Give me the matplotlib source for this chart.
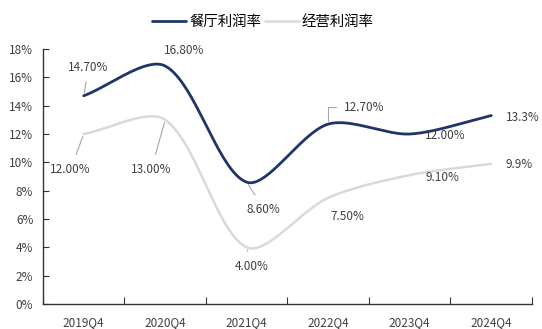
import numpy as np
import matplotlib
matplotlib.use('Agg')
import matplotlib.pyplot as plt

plt.rcParams['font.family'] = ['Noto Sans CJK SC', 'DejaVu Sans']

quarters = ['2019Q4', '2020Q4', '2021Q4', '2022Q4', '2023Q4', '2024Q4']
restaurant = [14.7, 16.8, 8.6, 12.7, 12.0, 13.3]
operating = [12.0, 13.0, 4.0, 7.5, 9.1, 9.9]
restaurant_labels = ['14.70%', '16.80%', '8.60%', '12.70%', '12.00%', '13.3%']
operating_labels = ['12.00%', '13.00%', '4.00%', '7.50%', '9.10%', '9.9%']

navy = '#1f3468'
grey = '#d9d9d9'
txt = '#404040'
lead_col = '#a6a6a6'

# pixel size of one category / one percent, used only for the smoothing distances
PX_X, PX_Y = 81.5, 14.17


def smooth(xs, ys, f=0.15, n=40):
    # excel-like smoothed line: cubic bezier, control arms weighted by segment length
    p = np.column_stack([np.asarray(xs, float) * PX_X, np.asarray(ys, float) * PX_Y])
    p = np.vstack([p[0], p, p[-1]])
    t = np.linspace(0, 1, n)[:, None]
    out = []
    for i in range(1, len(p) - 2):
        a, b, c, d = p[i - 1], p[i], p[i + 1], p[i + 2]
        d_ab, d_bc, d_cd = [np.hypot(*v) for v in (b - a, c - b, d - c)]
        c1 = b + (c - a) * 2 * f * d_bc / (d_ab + d_bc)
        c2 = c - (d - b) * 2 * f * d_bc / (d_bc + d_cd)
        seg = (1 - t) ** 3 * b + 3 * (1 - t) ** 2 * t * c1 + 3 * (1 - t) * t ** 2 * c2 + t ** 3 * c
        out.append(seg)
    out = np.vstack(out)
    return out[:, 0] / PX_X, out[:, 1] / PX_Y


fig = plt.figure(figsize=(5.42, 3.29), dpi=100)
ax = fig.add_axes([0.0793, 0.076, 0.9022, 0.775])

x = np.arange(len(quarters))
sx, sy = smooth(x, restaurant)
ax.plot(sx, sy, color=navy, lw=2.0, label='餐厅利润率', solid_capstyle='round', zorder=3)
sx, sy = smooth(x, operating)
ax.plot(sx, sy, color=grey, lw=1.8, label='经营利润率', solid_capstyle='round', zorder=2)

ax.set_xlim(-0.5, len(quarters) - 0.5)
ax.set_ylim(0, 18)
ax.set_yticks(np.arange(0, 19, 2))
ax.set_yticklabels(['{}%'.format(v) for v in range(0, 19, 2)])
ax.set_xticks(np.arange(-0.5, len(quarters), 1))
ax.set_xticklabels([])
ax.set_xticks(x, minor=True)
ax.set_xticklabels(quarters, minor=True)
ax.tick_params(axis='x', which='major', direction='in', length=5, color='#333333')
ax.tick_params(axis='x', which='minor', length=0, pad=9, labelsize=8.5, labelcolor=txt)
ax.tick_params(axis='y', direction='in', length=4, labelsize=8.5, labelcolor=txt,
               color='#333333', pad=7)
for s in ['top', 'right']:
    ax.spines[s].set_visible(False)
for s in ['left', 'bottom']:
    ax.spines[s].set_color('#333333')
    ax.spines[s].set_linewidth(1.0)

# label centres (data coords) and leader styles (None = no leader)
straight = 'arc3'
r_pos = [(0.06, 16.73), (1.23, 17.93), (2.21, 6.70), (3.44, 13.90), (4.44, 11.93), (5.39, 13.20)]
r_lead = [straight, None, straight, 'angle,angleA=0,angleB=90,rad=0', None, None]
o_pos = [(-0.16, 9.53), (0.83, 9.53), (2.06, 2.68), (3.23, 6.21), (4.40, 8.96), (5.34, 9.88)]
o_lead = [straight, straight, straight, None, None, None]

for vals, labels, pos, lead in [(restaurant, restaurant_labels, r_pos, r_lead),
                                (operating, operating_labels, o_pos, o_lead)]:
    for i, (v, lab) in enumerate(zip(vals, labels)):
        props = None
        if lead[i] is not None:
            props = dict(arrowstyle='-', color=lead_col, lw=0.8, shrinkA=4, shrinkB=2,
                         connectionstyle=lead[i])
        ax.annotate(lab, xy=(i, v), xytext=pos[i], ha='center', va='center',
                    fontsize=8.5, color=txt, arrowprops=props, annotation_clip=False)

fig.legend(loc='center', bbox_to_anchor=(0.485, 1 - 22 / 329), ncol=2, frameon=False,
           fontsize=10.4, handlelength=2.35, columnspacing=0.25, handletextpad=0.2,
           borderpad=0)

fig.savefig('out.png', dpi=100)
